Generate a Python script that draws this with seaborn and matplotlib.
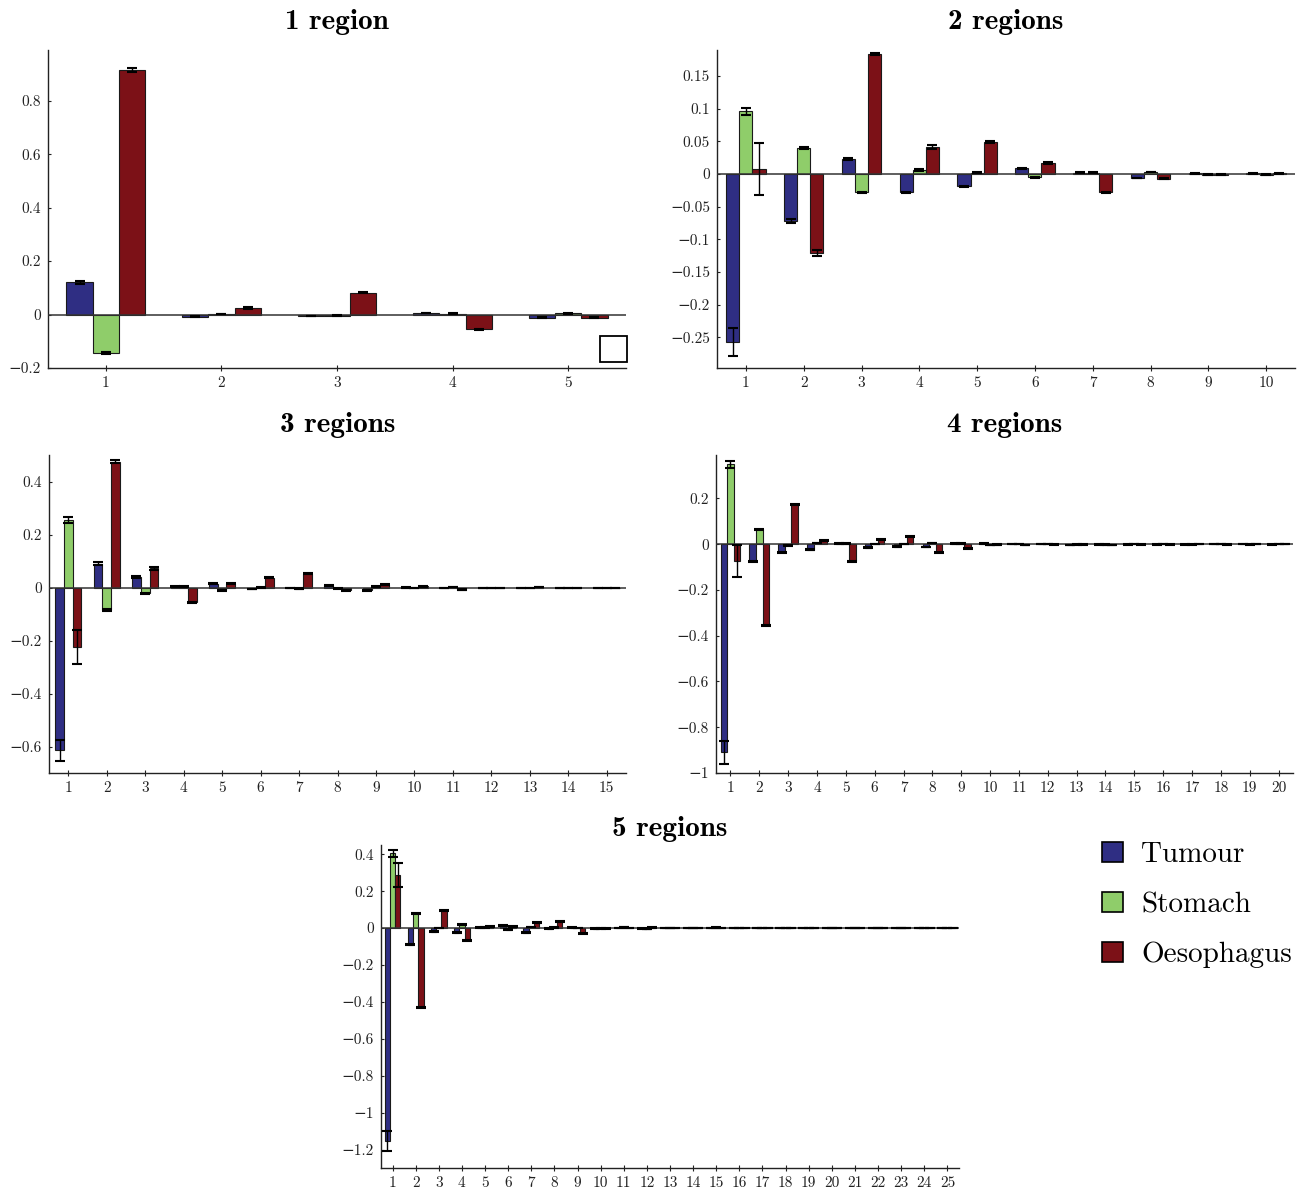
import numpy as np
import pandas as pd
import matplotlib
matplotlib.use("Agg")
import matplotlib.pyplot as plt
import seaborn as sns
from matplotlib.patches import Patch, Rectangle
from matplotlib.ticker import MultipleLocator, FuncFormatter

# tissues and colours
TISSUES = ["Tumour", "Stomach", "Oesophagus"]
COLOURS = ["#2f2e83", "#8fcd6a", "#7c1117"]

# --- 1 region (5 components)
T1 = [0.120, -0.009, -0.006, 0.005, -0.012]
S1 = [-0.143, 0.002, -0.004, 0.003, 0.004]
O1 = [0.915, 0.025, 0.082, -0.055, -0.012]
T1_err = [0.006, 0.002, 0.001, 0.001, 0.001]
S1_err = [0.003, 0.001, 0.001, 0.001, 0.001]
O1_err = [0.006, 0.003, 0.002, 0.002, 0.002]

# --- 2 regions (10 components)
T2 = [-0.257, -0.072, 0.023, -0.028, -0.019, 0.009, 0.002, -0.006, 0.001, 0.001]
S2 = [0.096, 0.040, -0.028, 0.006, 0.002, -0.005, 0.002, 0.003, -0.001, -0.001]
O2 = [0.008, -0.121, 0.184, 0.042, 0.049, 0.017, -0.028, -0.007, -0.001, 0.001]
T2_err = [0.022, 0.003, 0.002, 0.001, 0.001, 0.001, 0.0005, 0.0005, 0.0005, 0.0005]
S2_err = [0.005, 0.001, 0.001, 0.001, 0.0005, 0.0005, 0.0005, 0.0005, 0.0005, 0.0005]
O2_err = [0.040, 0.004, 0.002, 0.003, 0.002, 0.001, 0.001, 0.001, 0.0005, 0.0005]

# --- 3 regions (15 components)
T3 = [-0.615, 0.090, 0.040, 0.003, 0.015, -0.005, -0.002, 0.008, -0.010, 0.001,
      -0.002, -0.001, -0.001, -0.001, -0.001]
S3 = [0.255, -0.085, -0.022, 0.003, -0.010, 0.001, -0.004, -0.003, 0.003, -0.002,
      0.002, -0.001, -0.001, -0.001, -0.001]
O3 = [-0.225, 0.475, 0.072, -0.055, 0.015, 0.037, 0.052, -0.010, 0.010, 0.005,
      -0.008, -0.001, 0.002, -0.001, -0.001]
T3_err = [0.040, 0.006, 0.003, 0.001, 0.002, 0.001, 0.001, 0.001, 0.002, 0.001,
          0.001, 0.001, 0.001, 0.001, 0.001]
S3_err = [0.010, 0.002, 0.002, 0.001, 0.002, 0.001, 0.001, 0.001, 0.001, 0.001,
          0.001, 0.001, 0.001, 0.001, 0.001]
O3_err = [0.065, 0.005, 0.005, 0.002, 0.002, 0.002, 0.002, 0.002, 0.002, 0.002,
          0.002, 0.001, 0.001, 0.001, 0.001]

# --- 4 regions (20 components)
T4 = [-0.910, -0.075, -0.035, -0.025, 0.003, -0.015, -0.010, -0.012, 0.003, 0.003,
      0.001, 0.001, -0.003, -0.001, -0.001, -0.001, -0.001, 0.001, 0.001, -0.001]
S4 = [0.350, 0.065, -0.005, 0.005, 0.003, 0.002, 0.002, 0.005, 0.003, -0.003,
      0.002, 0.001, -0.001, -0.002, 0.001, 0.001, -0.001, 0.001, -0.001, 0.001]
O4 = [-0.075, -0.355, 0.175, 0.015, -0.075, 0.022, 0.035, -0.035, -0.018, -0.002,
      -0.003, -0.001, -0.001, -0.003, -0.001, -0.001, 0.001, -0.001, 0.001, 0.001]
T4_err = [0.050, 0.003, 0.002, 0.002, 0.001, 0.002, 0.001, 0.002, 0.001, 0.001,
          0.001, 0.001, 0.001, 0.001, 0.001, 0.001, 0.001, 0.001, 0.001, 0.001]
S4_err = [0.015, 0.002, 0.001, 0.001, 0.001, 0.001, 0.001, 0.001, 0.001, 0.001,
          0.001, 0.001, 0.001, 0.001, 0.001, 0.001, 0.001, 0.001, 0.001, 0.001]
O4_err = [0.070, 0.003, 0.003, 0.003, 0.002, 0.002, 0.002, 0.002, 0.002, 0.001,
          0.001, 0.001, 0.001, 0.001, 0.001, 0.001, 0.001, 0.001, 0.001, 0.001]

# --- 5 regions (25 components)
T5 = [-1.155, -0.090, -0.020, -0.025, 0.002, 0.015, -0.025, -0.003, 0.003, -0.003,
      0.002, -0.002, -0.001, -0.001, -0.001, 0.001, -0.001, 0.001, 0.001, -0.001,
      0.001, -0.001, 0.001, -0.001, 0.001]
S5 = [0.405, 0.080, 0.001, 0.018, 0.003, -0.008, 0.005, 0.003, 0.001, -0.002,
      0.005, -0.005, -0.001, 0.001, 0.003, -0.001, 0.001, -0.001, 0.001, -0.001,
      0.001, -0.001, 0.001, -0.001, 0.001]
O5 = [0.285, -0.430, 0.095, -0.065, 0.010, 0.010, 0.030, 0.035, -0.028, -0.002,
      0.002, 0.003, -0.001, -0.001, 0.001, -0.001, -0.001, 0.001, -0.001, 0.001,
      -0.001, 0.001, -0.001, 0.001, -0.001]
T5_err = [0.055, 0.003, 0.002, 0.002, 0.002, 0.002, 0.003, 0.002, 0.002, 0.001,
          0.001, 0.001, 0.001, 0.001, 0.001, 0.001, 0.001, 0.001, 0.001, 0.001,
          0.001, 0.001, 0.001, 0.001, 0.001]
S5_err = [0.020, 0.002, 0.001, 0.002, 0.001, 0.001, 0.001, 0.001, 0.001, 0.001,
          0.001, 0.001, 0.001, 0.001, 0.001, 0.001, 0.001, 0.001, 0.001, 0.001,
          0.001, 0.001, 0.001, 0.001, 0.001]
O5_err = [0.065, 0.003, 0.003, 0.003, 0.002, 0.002, 0.002, 0.002, 0.002, 0.001,
          0.001, 0.001, 0.001, 0.001, 0.001, 0.001, 0.001, 0.001, 0.001, 0.001,
          0.001, 0.001, 0.001, 0.001, 0.001]

TITLES = ["1 region", "2 regions", "3 regions", "4 regions", "5 regions"]

sns.set_style("ticks")
plt.rcParams["font.family"] = ["cmr10", "DejaVu Serif"]
plt.rcParams["axes.unicode_minus"] = True


def tick_fmt(v, pos):
    s = f"{round(v, 4):g}"
    if s == "-0":
        s = "0"
    return s.replace("-", "\u2212")


W, H = 1303, 1191
fig = plt.figure(figsize=(W / 100, H / 100), dpi=100)

# (title, values, errors, ylim, ytick step, title pad, axes rect in pixels: left, top, right, bottom)
panels = [
    (TITLES[0], [T1, S1, O1], [T1_err, S1_err, O1_err], (-0.2, 0.99), 0.2, 15, (48, 50, 626, 368)),
    (TITLES[1], [T2, S2, O2], [T2_err, S2_err, O2_err], (-0.297, 0.19), 0.05, 15, (717, 50, 1295, 368)),
    (TITLES[2], [T3, S3, O3], [T3_err, S3_err, O3_err], (-0.7, 0.5), 0.2, 16.5, (49, 455, 626, 773)),
    (TITLES[3], [T4, S4, O4], [T4_err, S4_err, O4_err], (-1.0, 0.39), 0.2, 16.5, (716, 455, 1293, 773)),
    (TITLES[4], [T5, S5, O5], [T5_err, S5_err, O5_err], (-1.3, 0.45), 0.2, 6.5, (381, 845, 959, 1168)),
]

for title, vals, errs, ylim, step, tpad, (l, t, r, b) in panels:
    n = len(vals[0])
    comps = [str(i) for i in range(1, n + 1)]
    df = pd.DataFrame({
        "component": comps * 3,
        "tissue": np.repeat(TISSUES, n),
        "value": np.concatenate(vals),
    })
    ax = fig.add_axes([l / W, 1 - b / H, (r - l) / W, (b - t) / H])
    sns.barplot(data=df, x="component", y="value", hue="tissue",
                order=comps, hue_order=TISSUES, palette=COLOURS, saturation=1,
                width=0.68, errorbar=None, edgecolor="#1a1a1a", linewidth=0.8,
                legend=False, ax=ax)
    # error bars on top of each bar
    for cont, v, e in zip(ax.containers, vals, errs):
        xs = [bar.get_x() + bar.get_width() / 2 for bar in cont]
        ax.errorbar(xs, v, yerr=e, fmt="none", ecolor="black", elinewidth=1,
                    capsize=3.5, capthick=1.5, zorder=4)
    ax.axhline(0, color="#333333", lw=1.1, zorder=3)
    ax.set_ylim(*ylim)
    ax.set_xlim(-0.5, n - 0.5)
    ax.yaxis.set_major_locator(MultipleLocator(step))
    ax.yaxis.set_major_formatter(FuncFormatter(tick_fmt))
    ax.set_xlabel("")
    ax.set_ylabel("")
    ax.set_title(title, fontsize=21, fontfamily=["cmb10", "DejaVu Serif"],
                 pad=tpad, color="black")
    sns.despine(ax=ax)
    for sp in ax.spines.values():
        sp.set_linewidth(1.0)
        sp.set_color("#222222")
    ax.tick_params(axis="both", labelsize=11, width=0.8, colors="#222222")
    ax.tick_params(axis="x", direction="inout", length=4, pad=4)
    ax.tick_params(axis="y", direction="in", length=2, pad=5)

    if title == "1 region":
        # small empty box in the lower right corner
        ax.add_patch(Rectangle((0.955, 0.02), 0.047, 0.082, transform=ax.transAxes,
                               fill=False, edgecolor="black", lw=1.3, clip_on=False))

handles = [Patch(facecolor=c, edgecolor="black", linewidth=1.2, label=t)
           for t, c in zip(TISSUES, COLOURS)]
leg = fig.legend(handles=handles, loc="upper left", bbox_to_anchor=(0.8368, 0.3031),
                 borderaxespad=0, frameon=False, fontsize=21, handlelength=0.72,
                 handleheight=0.72, handletextpad=0.62, labelspacing=0.8)
for txt in leg.get_texts():
    txt.set_color("black")

fig.savefig("out.png", dpi=100)
